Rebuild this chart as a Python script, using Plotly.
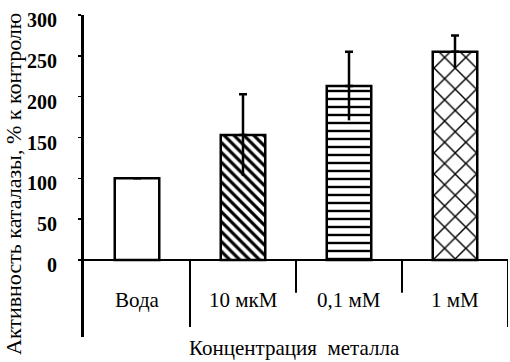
import plotly.graph_objects as go

categories = ["Вода", "10 мкМ", "0,1 мМ", "1 мМ"]
values = [100, 153, 213, 255]
errors = [0, 50, 42, 20]
patterns = ["", "\\", "-", "x"]
y_ticks = [0, 50, 100, 150, 200, 250, 300]

W, H = 510, 362
L, R, T, B = 84, 2, 15, 25
pw, ph = W - L - R, H - T - B
y_min, y_max = -94.3, 300

serif = "Liberation Serif, Times New Roman, serif"

fig = go.Figure()
fig.add_trace(go.Bar(
    x=categories, y=values, width=0.42,
    marker=dict(
        color="white",
        line=dict(color="black", width=2.5),
        pattern=dict(shape=patterns, size=[8, 7, 8, 15], solidity=[0.3, 0.45, 0.3, 0.18],
                     fgcolor="black", bgcolor="white", fillmode="replace"),
    ),
    error_y=dict(type="data", symmetric=False, array=errors, arrayminus=[0]*4,
                 color="black", thickness=2.5, width=4),
    showlegend=False, hoverinfo="skip",
))
fig.add_trace(go.Scatter(
    x=categories, y=values, mode="markers", marker=dict(size=0.1, color="rgba(0,0,0,0)"),
    error_y=dict(type="data", symmetric=False, array=[0]*4, arrayminus=errors,
                 color="black", thickness=2.5, width=0),
    showlegend=False, hoverinfo="skip",
))

# separators between categories
sep_len = [-82, -40, -40, -82]
for i, ln in enumerate(sep_len):
    fig.add_shape(type="line", xref="x", yref="y", x0=i + 0.5, x1=i + 0.5, y0=0, y1=ln,
                  line=dict(color="black", width=2))

# category labels
for c in categories:
    fig.add_annotation(x=c, y=-49, xref="x", yref="y", text=c, showarrow=False,
                       font=dict(family=serif, size=21, color="black"))

fig.add_annotation(x=(294 - L) / pw, y=(H - B - 348) / ph, xref="paper", yref="paper",
                   text="Концентрация  металла", showarrow=False, xanchor="center", yanchor="middle",
                   font=dict(family=serif, size=21, color="black"))

fig.add_annotation(x=(14 - L) / pw, y=-(B - 5) / ph, xref="paper", yref="paper",
                   text="Активность каталазы, % к контролю", textangle=-90, showarrow=False,
                   xanchor="center", yanchor="bottom",
                   font=dict(family=serif, size=22, color="black"))

fig.update_layout(
    width=W, height=H, margin=dict(l=L, r=R, t=T, b=B, autoexpand=False),
    paper_bgcolor="white", plot_bgcolor="white",
    xaxis=dict(range=[-0.5, 3.5], showticklabels=False, showline=False, ticks="",
               showgrid=False, zeroline=False, fixedrange=True, automargin=False),
    yaxis=dict(range=[y_min, y_max], tickvals=y_ticks, ticktext=[str(v) for v in y_ticks],
               showline=True, linecolor="black", linewidth=3, ticks="outside", ticklen=3,
               tickwidth=1.5, tickcolor="black", showgrid=False, automargin=False,
               zeroline=True, zerolinecolor="black", zerolinewidth=2,
               tickfont=dict(family=serif, size=20, color="black", weight="bold"),
               ticklabelstandoff=17, ticklabelshift=5, fixedrange=True),
    bargap=0.58,
)

fig.write_html("out.html", config={"displayModeBar": False, "staticPlot": True},
               post_script="document.body.style.margin='0';document.body.style.overflow='hidden';")
